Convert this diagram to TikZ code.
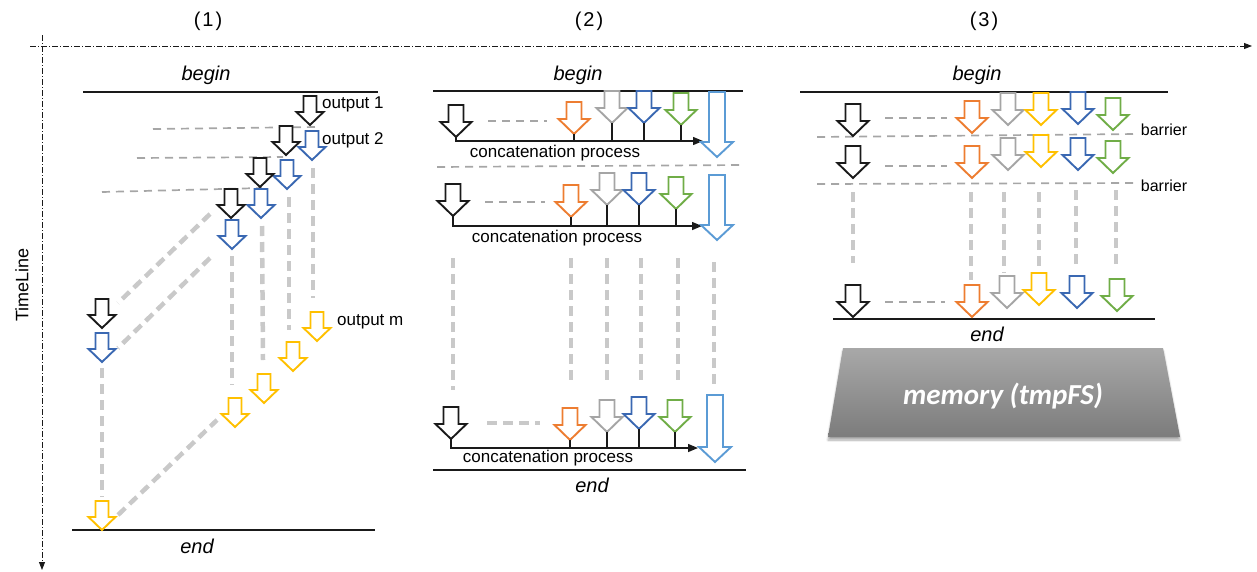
\documentclass[tikz,border=0pt]{standalone}
\usepackage{fontspec}
\setmainfont{Liberation Sans}
\newfontfamily\carl{Carlito}
\usetikzlibrary{arrows.meta,shadows.blur}
\definecolor{KC}{HTML}{1A1A1A}
\definecolor{BC}{HTML}{3A68B2}
\definecolor{OC}{HTML}{ED7D31}
\definecolor{GC}{HTML}{A5A5A5}
\definecolor{YC}{HTML}{FFC000}
\definecolor{NC}{HTML}{70AD47}
\definecolor{LC}{HTML}{5B9BD5}
\definecolor{DashC}{HTML}{A6A6A6}
\definecolor{LDashC}{HTML}{C9C9C9}
\definecolor{MemTop}{HTML}{A8A8A8}
\definecolor{MemBot}{HTML}{7C7C7C}
\tikzset{
  pics/barrow/.style n args={4}{code={
    \draw[line width=1.9pt, line join=miter, fill=white, pic actions]
      (0,0) -- ({-#1/2},{-#4}) -- ({-#3/2},{-#4}) -- ({-#3/2},{-#2})
      -- ({#3/2},{-#2}) -- ({#3/2},{-#4}) -- ({#1/2},{-#4}) -- cycle;
    \coordinate (-tip) at (0,0);
    \coordinate (-top) at (0,{-#2});
  }},
  pics/arrS/.style={/tikz/pics/barrow={27}{29}{13}{13}},
  pics/arrM/.style={/tikz/pics/barrow={31}{32}{15}{15}},
  cK/.style={draw=KC}, cB/.style={draw=BC}, cO/.style={draw=OC},
  cG/.style={draw=GC}, cY/.style={draw=YC}, cN/.style={draw=NC}, cL/.style={draw=LC},
  tdash/.style={draw=DashC, line width=1.7pt, dash pattern=on 8pt off 6pt},
  bdash/.style={draw=LDashC, line width=4.5pt, dash pattern=on 10pt off 6pt},
  hline/.style={draw=KC, line width=1.8pt},
  proc/.style={draw=KC, line width=1.4pt, -{Triangle[length=10pt,width=8pt]}},
  stem/.style={draw=KC, line width=1.4pt},
  axis/.style={draw=KC, line width=0.9pt, dash pattern=on 6pt off 2pt on 1pt off 2pt},
  ital/.style={font=\fontsize{20}{22}\selectfont\itshape, inner sep=0pt},
  lbl/.style={font=\fontsize{17}{19}\selectfont, inner sep=0pt},
  sml/.style={font=\fontsize{16}{18}\selectfont, inner sep=0pt},
  head/.style={font=\fontsize{20}{22}\selectfont, inner sep=0pt},
}
\begin{document}
\begin{tikzpicture}[x=1pt,y=-1pt]
\useasboundingbox (0,0) rectangle (1257,571);
% ---------- axes ----------
\coordinate (ax0) at (30,46);
\coordinate (ax1) at (1252,46);
\coordinate (ay0) at (42,35);
\coordinate (ay1) at (42,570);
\draw[axis, -{Triangle[length=8pt,width=6pt]}] (ax0) -- (ax1);
\draw[axis, -{Triangle[length=8pt,width=6pt]}] (ay0) -- (ay1);
\node[lbl, rotate=90, font=\fontsize{18}{20}\selectfont] (tl) at (22,285) {TimeLine};
\node[head] (h1) at (208,21) {(\kern2pt1\kern2pt)};
\node[head] (h2) at (589,21) {(\kern2pt2\kern2pt)};
\node[head] (h3) at (984,21) {(\kern2pt3\kern2pt)};

% ---------- panel 1 ----------
\node[ital] (beg1) at (206,75) {begin};
\draw[hline] (83,92) -- (378,92);
\node[ital] (end1) at (197,546) {end};
\draw[hline] (72,530) -- (375,530);
% dashes
\draw[tdash] (153,129) -- (318,127);
\draw[tdash] (137,158) -- (283,157);
\draw[tdash] (102,192) -- (262,188);
\draw[bdash] (210,214) -- (118,303);
\draw[bdash] (210,258) -- (118,348);
\draw[bdash] (102,368) -- (102,497);
\draw[bdash] (118,515) -- (217,420);
\draw[bdash] (232,256) -- (232,385);
\draw[bdash] (262,226) -- (263,360);
\draw[bdash] (289,197) -- (289,330);
\draw[bdash] (313,168) -- (313,298);
% arrows
\pic[cK] (a1) at (310,125) {arrS};
\pic[cB] (b1) at (312,160) {arrS};
\pic[cK] (a2) at (286,155) {arrS};
\pic[cB] (b2) at (287,189) {arrS};
\pic[cK] (a3) at (260,187) {arrS};
\pic[cB] (b3) at (261,218) {arrS};
\pic[cK] (a4) at (231,218) {arrS};
\pic[cB] (b4) at (232,249) {arrS};
\pic[cK] (a5) at (102,328) {arrS};
\pic[cB] (b5) at (102,362) {arrS};
\pic[cY] (y4) at (317,341) {arrS};
\pic[cY] (y3) at (293,371) {arrS};
\pic[cY] (y2) at (264,403) {arrS};
\pic[cY] (y1) at (235,427) {arrS};
\pic[cY] (yf) at (102,530) {arrS};
\node[lbl, anchor=west] (o1) at (322,104) {output 1};
\node[lbl, anchor=west] (o2) at (322,140) {output 2};
\node[lbl, anchor=west] (om) at (337,322) {output m};

% ---------- panel 2 ----------
\node[ital] (beg2) at (578,75) {begin};
\draw[hline] (433,91) -- (743,91);
\node[ital] (end2) at (592,485) {end};
\draw[hline] (433,470) -- (746,470);
% row 1
\draw[tdash] (488,121) -- (547,121);
\pic[cK] (k21) at (456,137) {arrM};
\draw[proc] (k21-tip) |- (703,141) coordinate (pe1);
\pic[cO] (o21) at (574,134) {arrM};
\pic[cG] (g21) at (612,123) {arrM};
\pic[cB] (u21) at (644,123) {arrM};
\pic[cN] (n21) at (681,125) {arrM};
\foreach \n in {o21,g21,u21,n21} \draw[stem] (\n-tip) -- (\n-tip |- pe1);
\pic[cL] (l21) at (717,157) {barrow={32}{65}{16}{15}};
\node[lbl] (cp1) at (555,153) {concatenation process};
\draw[tdash] (437,167) -- (742,165);
% row 2
\draw[tdash] (485,202) -- (545,202);
\pic[cK] (k22) at (453,216) {arrM};
\draw[proc] (k22-tip) |- (702,226) coordinate (pe2);
\pic[cO] (o22) at (571,217) {arrM};
\pic[cG] (g22) at (607,205) {arrM};
\pic[cB] (u22) at (639,205) {arrM};
\pic[cN] (n22) at (676,209) {arrM};
\foreach \n in {o22,g22,u22,n22} \draw[stem] (\n-tip) -- (\n-tip |- pe2);
\pic[cL] (l22) at (717,240) {barrow={32}{65}{16}{15}};
\node[lbl] (cp2) at (557,238) {concatenation process};
% vertical dashes
\foreach \x/\a/\b in {453/258/390, 571/258/381, 607/258/382, 641/258/382, 678/258/385, 714/262/390}
  \draw[bdash] (\x,\a) -- (\x,\b);
% row 3
\draw[bdash] (487,423) -- (540,423);
\pic[cK] (k23) at (451,439) {arrM};
\draw[proc] (k23-tip) |- (698,448) coordinate (pe3);
\pic[cO] (o23) at (570,440) {arrM};
\pic[cG] (g23) at (607,432) {arrM};
\pic[cB] (u23) at (639,429) {arrM};
\pic[cN] (n23) at (675,432) {arrM};
\foreach \n in {o23,g23,u23,n23} \draw[stem] (\n-tip) -- (\n-tip |- pe3);
\pic[cL] (l23) at (715,462) {barrow={32}{67}{16}{15}};
\node[lbl] (cp3) at (548,458) {concatenation process};

% ---------- panel 3 ----------
\node[ital] (beg3) at (977,75) {begin};
\draw[hline] (800,92) -- (1168,92);
\node[ital] (end3) at (987,334) {end};
\draw[hline] (833,319) -- (1155,319);
% row 1
\draw[tdash] (885,118) -- (947,118);
\draw[tdash] (817,137) -- (1137,134);
\node[sml] (bar1) at (1164,130) {barrier};
\pic[cK] (k31) at (853,136) {arrM};
\pic[cO] (o31) at (972,133) {arrM};
\pic[cG] (g31) at (1008,125) {arrM};
\pic[cY] (y31) at (1041,125) {arrM};
\pic[cB] (u31) at (1078,124) {arrM};
\pic[cN] (n31) at (1113,130) {arrM};
% row 2
\draw[tdash] (885,166) -- (947,166);
\draw[tdash] (817,184) -- (1137,183);
\node[sml] (bar2) at (1164,186) {barrier};
\pic[cK] (k32) at (853,178) {arrM};
\pic[cO] (o32) at (972,178) {arrM};
\pic[cG] (g32) at (1008,170) {arrM};
\pic[cY] (y32) at (1041,167) {arrM};
\pic[cB] (u32) at (1078,170) {arrM};
\pic[cN] (n32) at (1113,173) {arrM};
% vertical dashes
\foreach \x/\a/\b in {853/192/263, 971/192/280, 1004/192/273, 1039/192/267, 1076/190/269, 1116/190/270}
  \draw[bdash] (\x,\a) -- (\x,\b);
% row 3
\draw[tdash] (885,302) -- (945,302);
\pic[cK] (k33) at (853,317) {arrM};
\pic[cO] (o33) at (972,317) {arrM};
\pic[cG] (g33) at (1007,308) {arrM};
\pic[cY] (y33) at (1039,305) {arrM};
\pic[cB] (u33) at (1077,308) {arrM};
\pic[cN] (n33) at (1117,311) {arrM};
% memory
\shade[top color=MemTop, bottom color=MemBot,
  blur shadow={shadow xshift=0pt, shadow yshift=-3pt, shadow blur steps=8, shadow opacity=35}]
  (843,348) -- (1163,348) -- (1180,437) -- (828,437) -- cycle;
\node[inner sep=0pt, text=white, font=\carl\bfseries\itshape\fontsize{29}{32}\selectfont] (mem) at (1003,396) {memory (tmpFS)};
\end{tikzpicture}
\end{document}
